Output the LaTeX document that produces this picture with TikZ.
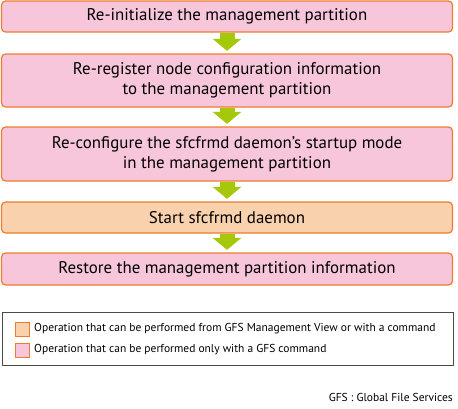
\documentclass[tikz,border=0pt]{standalone}
\usepackage{fontspec}
\setmainfont{PT Sans}
\usetikzlibrary{arrows.meta}
\definecolor{boxpink}{HTML}{F7C6DB}
\definecolor{boxpeach}{HTML}{F9D1AD}
\definecolor{boxedge}{HTML}{EE7B30}
\definecolor{flowgreen}{HTML}{A6C80A}
\definecolor{legendedge}{HTML}{4D4A45}

\begin{document}
\begin{tikzpicture}[x=1pt,y=-1pt,
  stepbox/.style={draw=boxedge,line width=1.2pt,rounded corners=4pt,minimum width=451pt,
    inner sep=0pt,align=center,font=\fontsize{16.9}{20}\selectfont},
  gfsonly/.style={stepbox,fill=boxpink},
  gfsview/.style={stepbox,fill=boxpeach},
  flowarrow/.style={flowgreen,line width=15pt,-{Triangle[width=28pt,length=12pt]},shorten >=2.5pt},
  keybox/.style={draw=boxedge,line width=1pt,minimum size=14pt,inner sep=0pt},
  keytext/.style={anchor=west,inner sep=0pt,font=\fontsize{11.5}{14}\selectfont}]
  \useasboundingbox (0,0) rectangle (458,408);
  % steps
  \node[gfsonly,minimum height=31pt] (init) at (227,16.5) {Re-initialize the management partition};
  \node[gfsonly,minimum height=53pt] (reg) at (227,80.5) {Re-register node configuration information\\to the management partition};
  \node[gfsonly,minimum height=54pt] (conf) at (227,154) {Re-configure the sfcfrmd daemon’s startup mode\\in the management partition};
  \node[gfsview,minimum height=31pt] (start) at (227,217.5) {Start sfcfrmd daemon};
  \node[gfsonly,minimum height=32pt] (restore) at (227,269) {Restore the management partition information};
  % arrows between the steps
  \draw[flowarrow] (init.south) -- (reg.north);
  \draw[flowarrow] (reg.south) -- (conf.north);
  \draw[flowarrow] (conf.south) -- (start.north);
  \draw[flowarrow] (start.south) -- (restore.north);
  % legend
  \draw[legendedge,line width=1pt] (2,312) rectangle (453,365);
  \node[keybox,fill=boxpeach] (keyview) at (22,329) {};
  \node[keybox,fill=boxpink] (keyonly) at (22,350) {};
  \node[keytext] (textview) at (34,329) {Operation that can be performed from GFS Management View or with a command};
  \node[keytext] (textonly) at (34,350) {Operation that can be performed only with a GFS command};
  \node[anchor=east,inner sep=0pt,font=\fontsize{11.5}{14}\selectfont] (gfsnote) at (453,397) {GFS : Global File Services};
\end{tikzpicture}
\end{document}
